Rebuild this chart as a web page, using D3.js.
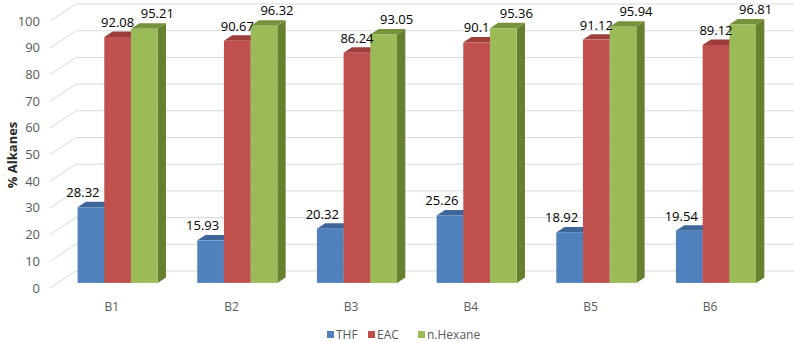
<!DOCTYPE html>
<html>
<head>
<meta charset="utf-8">
<script src="https://cdn.jsdelivr.net/npm/d3@7"></script>
<style>
  body { margin: 0; background: #fff; }
  text { font-family: "Open Sans", "Liberation Sans", Arial, sans-serif; }
</style>
</head>
<body>
<div id="chart"></div>
<script>
// data
let categories = ["B1", "B2", "B3", "B4", "B5", "B6"];
let series = ["THF", "EAC", "n.Hexane"];
let thf = [28.32, 15.93, 20.32, 25.26, 18.92, 19.54];
let eac = [92.08, 90.67, 86.24, 90.1, 91.12, 89.12];
let hexane = [95.21, 96.32, 93.05, 95.36, 95.94, 96.81];
let yTicks = [0, 10, 20, 30, 40, 50, 60, 70, 80, 90, 100];

let values = [thf, eac, hexane];

// colours: front, top, side
let colors = [
  { front: "#4F81BD", top: "#3E6698", side: "#385D8A" },
  { front: "#C0504D", top: "#9E3E3C", side: "#8C3836" },
  { front: "#9BBB59", top: "#76923C", side: "#66802F" }
];

let width = 794, height = 342;

// oblique 3d: depth z in [0,1] shifts by (dx, dy)
let depthX = 26, depthY = -17;
let floorY = 288;
let barZ0 = 0.3, barZ1 = 0.62;

let svg = d3.select("#chart").append("svg")
  .attr("width", width)
  .attr("height", height);

let xScale = d3.scaleBand()
  .domain(categories)
  .range([50, 768])
  .paddingInner(0.331)
  .paddingOuter(0.1655);

let xInner = d3.scaleBand()
  .domain(series)
  .range([0, xScale.bandwidth()]);

let yScale = d3.scaleLinear()
  .domain([0, 100])
  .range([0, 267]);

// project (front x, value, depth) to screen
function px(x, z) { return x + depthX * z; }
function py(v, z) { return floorY - yScale(v) + depthY * z; }

// gridlines: side wall diagonals + back wall horizontals
let grid = svg.append("g").attr("stroke", "#D9D9D9").attr("fill", "none");
yTicks.forEach(t => {
  grid.append("path")
    .attr("d", "M" + px(50, 0) + "," + py(t, 0) +
      "L" + px(50, 1) + "," + py(t, 1) +
      "L" + width + "," + py(t, 1));
});

// tick labels
svg.append("g").selectAll("text")
  .data(yTicks)
  .enter()
  .append("text")
  .attr("x", 40)
  .attr("y", d => py(d, 0))
  .attr("dy", "0.35em")
  .attr("text-anchor", "end")
  .attr("font-size", 13)
  .attr("fill", "#595959")
  .text(d => d);

// axis title
svg.append("text")
  .attr("transform", "translate(17,155) rotate(-90)")
  .attr("text-anchor", "middle")
  .attr("font-size", 13)
  .attr("font-weight", "bold")
  .attr("fill", "#262626")
  .text("% Alkanes");

// bars
let bars = svg.append("g");
categories.forEach((c, ci) => {
  series.forEach((s, si) => {
    let v = values[si][ci];
    let x0 = xScale(c) + xInner(s);
    let x1 = x0 + xInner.bandwidth();
    let col = colors[si];
    let g = bars.append("g");
    // side
    g.append("path")
      .attr("fill", col.side)
      .attr("d", "M" + px(x1, barZ0) + "," + py(0, barZ0) +
        "L" + px(x1, barZ1) + "," + py(0, barZ1) +
        "L" + px(x1, barZ1) + "," + py(v, barZ1) +
        "L" + px(x1, barZ0) + "," + py(v, barZ0) + "Z");
    // top
    g.append("path")
      .attr("fill", col.top)
      .attr("d", "M" + px(x0, barZ0) + "," + py(v, barZ0) +
        "L" + px(x0, barZ1) + "," + py(v, barZ1) +
        "L" + px(x1, barZ1) + "," + py(v, barZ1) +
        "L" + px(x1, barZ0) + "," + py(v, barZ0) + "Z");
    // front
    g.append("rect")
      .attr("fill", col.front)
      .attr("x", px(x0, barZ0))
      .attr("y", py(v, barZ0))
      .attr("width", x1 - x0)
      .attr("height", yScale(v));
  });
});

// data labels (Excel nudges them apart a little)
let labelShift = [-8, 0, 13];
let labelRise = [10, 10, 10.5];
let labels = svg.append("g");
categories.forEach((c, ci) => {
  series.forEach((s, si) => {
    let v = values[si][ci];
    let cx = px(xScale(c) + xInner(s) + xInner.bandwidth() / 2, barZ0);
    labels.append("text")
      .attr("x", cx + labelShift[si])
      .attr("y", py(v, barZ0) - labelRise[si])
      .attr("text-anchor", "middle")
      .attr("font-size", 13)
      .attr("fill", "#000")
      .text(v);
  });
});

// category labels
svg.append("g").selectAll("text")
  .data(categories)
  .enter()
  .append("text")
  .attr("x", d => xScale(d) + xScale.bandwidth() / 2 + 2)
  .attr("y", 311)
  .attr("text-anchor", "middle")
  .attr("font-size", 12)
  .attr("fill", "#595959")
  .text(d => d);

// legend
let legendX = [327, 368, 418];
let legend = svg.append("g");
series.forEach((s, i) => {
  legend.append("rect")
    .attr("x", legendX[i])
    .attr("y", 331)
    .attr("width", 7)
    .attr("height", 7)
    .attr("fill", colors[i].front);
  legend.append("text")
    .attr("x", legendX[i] + 9)
    .attr("y", 339)
    .attr("font-size", 12)
    .attr("fill", "#595959")
    .text(s);
});
</script>
</body>
</html>
